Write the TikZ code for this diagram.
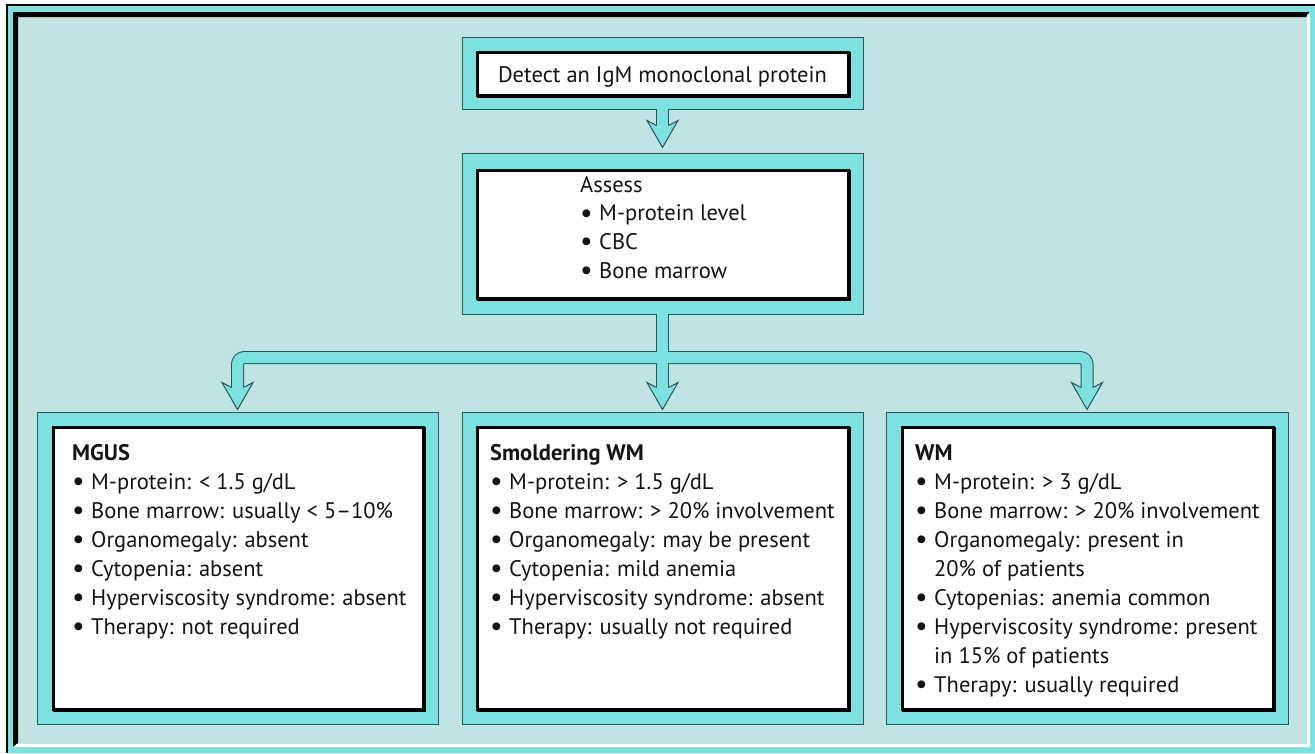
\documentclass[tikz,border=0pt]{standalone}
\usepackage{fontspec}
\setmainfont{PT Sans}
\usetikzlibrary{calc}
\definecolor{bgl}{RGB}{192,228,228}
\definecolor{cyb}{RGB}{124,226,224}
\definecolor{dk}{RGB}{40,85,85}
\definecolor{txtc}{RGB}{20,20,20}
\newcommand\mybul{\makebox[19pt][l]{\raisebox{-1.5pt}{\fontsize{28}{29}\selectfont\textbullet}}}
\newcommand\myind{\hspace*{19pt}}
\newcommand\myhead[1]{%
  \fill[cyb] ($(#1)+(-6,-22)$) -- ($(#1)+(-15.5,-27)$) -- (#1) -- ($(#1)+(15.5,-27)$) -- ($(#1)+(6,-22)$) -- cycle;
  \draw[dk, line width=1pt, line join=miter] ($(#1)+(-6,-22)$) -- ($(#1)+(-15.5,-27)$) -- (#1) -- ($(#1)+(15.5,-27)$) -- ($(#1)+(6,-22)$);}
\tikzset{
  outerbox/.style={draw=dk, line width=1pt, fill=cyb, inner sep=0pt, minimum width=401pt},
  innerbox/.style={draw=black, line width=3pt, fill=white, inner sep=0pt,
    preaction={draw=black, line width=3pt, transform canvas={shift={(1.5pt,-1.5pt)}}}},
  txt/.style={inner sep=0pt, text=txtc, font=\fontsize{22.5}{29}\selectfont}
}
\begin{document}
\begin{tikzpicture}[x=1pt,y=-1pt]
\useasboundingbox (0,0) rectangle (1315,753);
% frame
\fill[white] (0,0) rectangle (1315,753);
\fill[cyb] (6,4) rectangle (1315,753);
\fill[black] (6,4) rectangle (1315,6);
\fill[black] (6,4) rectangle (8,753);
\fill[bgl] (13,12) rectangle (1310,747);
\fill[black] (13,12) -- (1310,12) -- (1306,17) -- (18,17) -- (18,743) -- (13,747) -- cycle;
\fill[white] (1310,12) -- (1310,747) -- (13,747) -- (17,744) -- (1307,744) -- (1307,15) -- cycle;

% boxes
\node[outerbox, minimum height=72pt] (o1) at (662.5,73) {};
\node[innerbox, minimum width=371pt, minimum height=43pt] (b1) at (662.5,73.5) {};
\node[txt, anchor=base] (t1) at (662.5,82) {Detect an IgM monoclonal protein};

\node[outerbox, minimum height=161pt] (o2) at (662.5,233.5) {};
\node[innerbox, minimum width=371pt, minimum height=128pt] (b2) at (662.5,234) {};
\node[txt, anchor=base west, font=\fontsize{22.5}{28.7}\selectfont] (t2) at (580,192) {\begin{tabular}[t]{@{}l@{}}Assess\\ \mybul M-protein level\\ \mybul CBC\\ \mybul Bone marrow\end{tabular}};

\node[outerbox, minimum height=312pt] (o3) at (237.5,568) {};
\node[innerbox, minimum width=370pt, minimum height=282pt] (b3) at (238,568) {};
\node[txt, anchor=base west] (t3) at (72,460) {\begin{tabular}[t]{@{}l@{}}\textbf{MGUS}\\
\mybul M-protein: < 1.5 g/dL\\
\mybul Bone marrow: usually < 5–10\%\\
\mybul Organomegaly: absent\\
\mybul Cytopenia: absent\\
\mybul Hyperviscosity syndrome: absent\\
\mybul Therapy: not required\end{tabular}};

\node[outerbox, minimum height=312pt] (o4) at (662.5,568) {};
\node[innerbox, minimum width=371pt, minimum height=282pt] (b4) at (662.5,568) {};
\node[txt, anchor=base west] (t4) at (490,460) {\begin{tabular}[t]{@{}l@{}}\textbf{Smoldering WM}\\
\mybul M-protein: > 1.5 g/dL\\
\mybul Bone marrow: > 20\% involvement\\
\mybul Organomegaly: may be present\\
\mybul Cytopenia: mild anemia\\
\mybul Hyperviscosity syndrome: absent\\
\mybul Therapy: usually not required\end{tabular}};

\node[outerbox, minimum width=402pt, minimum height=312pt] (o5) at (1087,568) {};
\node[innerbox, minimum width=371pt, minimum height=282pt] (b5) at (1087.5,568) {};
\node[txt, anchor=base west] (t5) at (915,460) {\begin{tabular}[t]{@{}l@{}}\textbf{WM}\\
\mybul M-protein: > 3 g/dL\\
\mybul Bone marrow: > 20\% involvement\\
\mybul Organomegaly: present in\\
\myind 20\% of patients\\
\mybul Cytopenias: anemia common\\
\mybul Hyperviscosity syndrome: present\\
\myind in 15\% of patients\\
\mybul Therapy: usually required\end{tabular}};

% connectors
\coordinate (bar) at (662.5,357.5);
\draw[dk, line width=13pt] (o1.south) -- ++(0,19);
\draw[dk, line width=13pt] (o2.south) -- ($(o4.north)+(0,-23)$);
\draw[dk, line width=13pt, rounded corners=7] ($(o3.north)+(0,-23)$) -- (o3.north |- bar) -- (o5.north |- bar) -- ($(o5.north)+(0,-23)$);
\draw[cyb, line width=11pt] ($(o1.south)+(0,-1.5)$) -- ++(0,20.5);
\draw[cyb, line width=11pt] ($(o2.south)+(0,-1.5)$) -- ($(o4.north)+(0,-23)$);
\draw[cyb, line width=11pt, rounded corners=7] ($(o3.north)+(0,-23)$) -- (o3.north |- bar) -- (o5.north |- bar) -- ($(o5.north)+(0,-23)$);
\coordinate (h1) at ($(o2.north)+(0,-5)$);
\coordinate (h3) at ($(o3.north)+(0,-2)$);
\coordinate (h4) at ($(o4.north)+(0,-2)$);
\coordinate (h5) at ($(o5.north)+(0,-2)$);
\myhead{h1}
\myhead{h3}
\myhead{h4}
\myhead{h5}
\end{tikzpicture}
\end{document}
